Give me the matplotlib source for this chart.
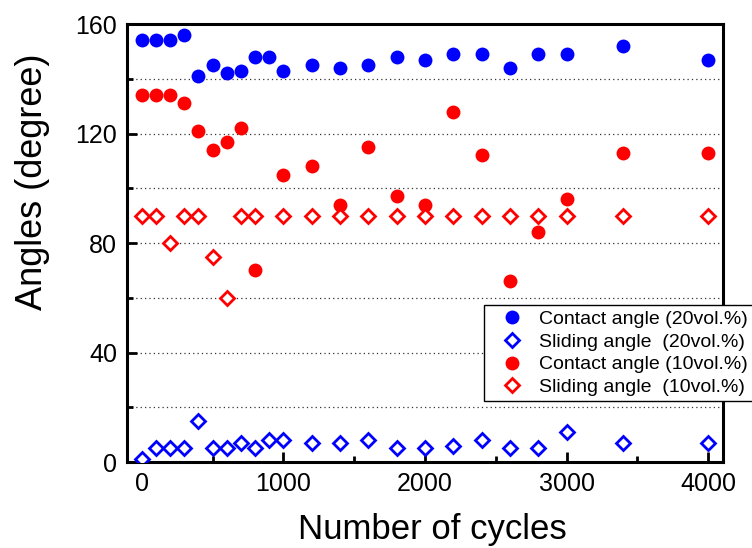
import matplotlib
matplotlib.use("Agg")
import matplotlib.pyplot as plt
from matplotlib.ticker import MultipleLocator

plt.rcParams['font.family'] = ['Liberation Sans', 'DejaVu Sans']

# ---- data ----
cycles_20 = [0, 100, 200, 300, 400, 500, 600, 700, 800, 900, 1000,
             1200, 1400, 1600, 1800, 2000, 2200, 2400, 2600, 2800, 3000, 3400, 4000]
contact_20 = [154, 154, 154, 156, 141, 145, 142, 143, 148, 148, 143,
              145, 144, 145, 148, 147, 149, 149, 144, 149, 149, 152, 147]
sliding_20 = [1, 5, 5, 5, 15, 5, 5, 7, 5, 8, 8,
              7, 7, 8, 5, 5, 6, 8, 5, 5, 11, 7, 7]

cycles_10 = [0, 100, 200, 300, 400, 500, 600, 700, 800, 1000,
             1200, 1400, 1600, 1800, 2000, 2200, 2400, 2600, 2800, 3000, 3400, 4000]
contact_10 = [134, 134, 134, 131, 121, 114, 117, 122, 70, 105,
              108, 94, 115, 97, 94, 128, 112, 66, 84, 96, 113, 113]
sliding_10 = [90, 90, 80, 90, 90, 75, 60, 90, 90, 90,
              90, 90, 90, 90, 90, 90, 90, 90, 90, 90, 90, 90]

labels = ["Contact angle (20vol.%)", "Sliding angle  (20vol.%)",
          "Contact angle (10vol.%)", "Sliding angle  (10vol.%)"]
xticks = [0, 1000, 2000, 3000, 4000]
yticks = [0, 40, 80, 120, 160]

BLUE = '#0000FF'
RED = '#FF0000'

fig = plt.figure(figsize=(7.52, 5.48), dpi=100)
ax = fig.add_axes([0.1689, 0.1569, 0.7922, 0.7993])

ax.plot(cycles_20, contact_20, linestyle='none', marker='o', ms=10,
        mfc=BLUE, mec=BLUE, mew=0, label=labels[0], zorder=3)
ax.plot(cycles_20, sliding_20, linestyle='none', marker='D', ms=7,
        mfc='white', mec=BLUE, mew=2.0, label=labels[1], zorder=3)
ax.plot(cycles_10, contact_10, linestyle='none', marker='o', ms=10,
        mfc=RED, mec=RED, mew=0, label=labels[2], zorder=3)
ax.plot(cycles_10, sliding_10, linestyle='none', marker='D', ms=7,
        mfc='white', mec=RED, mew=2.0, label=labels[3], zorder=3)

ax.set_xlim(-104, 4103)
ax.set_ylim(0, 160)
ax.set_xticks(xticks)
ax.set_yticks(yticks)
ax.xaxis.set_minor_locator(MultipleLocator(500))
ax.yaxis.set_minor_locator(MultipleLocator(20))

ax.tick_params(which='major', direction='in', length=7, width=2,
               labelsize=18, pad=7)
ax.tick_params(which='minor', direction='in', length=4, width=2)

for y in range(20, 160, 20):
    ax.axhline(y, color='#333333', linestyle=(0, (1, 2.5)), linewidth=0.9, zorder=1)

for s in ax.spines.values():
    s.set_linewidth(2.2)

ax.set_xlabel("Number of cycles", fontsize=25)
ax.set_ylabel("Angles (degree)", fontsize=26)
ax.xaxis.set_label_coords(0.512, -0.155)
ax.xaxis.label.set_va('center')
ax.yaxis.set_label_coords(-0.159, 0.64)
ax.yaxis.label.set_va('center')

leg = ax.legend(loc='upper left', bbox_to_anchor=(0.599, 0.358),
                borderaxespad=0, fontsize=14, numpoints=1, fancybox=False,
                frameon=True, edgecolor='black', framealpha=1,
                borderpad=0.25, handlelength=2.4, handletextpad=0.2,
                labelspacing=0.27)
leg.get_frame().set_linewidth(1.0)
leg.set_zorder(5)

fig.savefig("out.png", dpi=100)
